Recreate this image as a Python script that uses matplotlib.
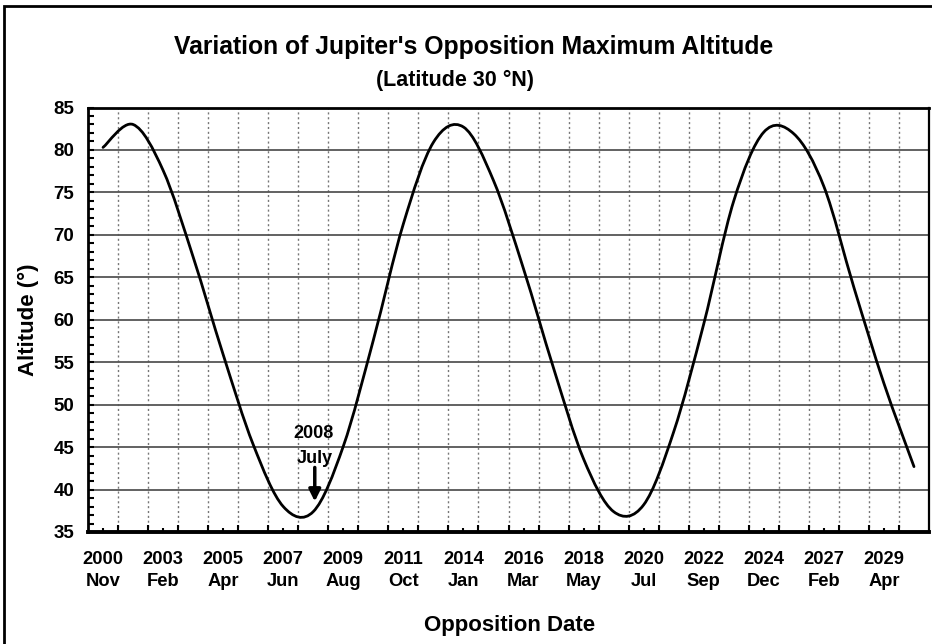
import numpy as np
import matplotlib
matplotlib.use("Agg")
import matplotlib.pyplot as plt
from matplotlib.path import Path
from matplotlib.patches import PathPatch, Rectangle

# one point per Jupiter opposition, 2000 Nov .. 2030 May
dates = ["2000 Nov", "2002 Jan", "2003 Feb", "2004 Mar", "2005 Apr", "2006 May",
         "2007 Jun", "2008 Jul", "2009 Aug", "2010 Sep", "2011 Oct", "2012 Dec",
         "2014 Jan", "2015 Feb", "2016 Mar", "2017 Apr", "2018 May", "2019 Jun",
         "2020 Jul", "2021 Aug", "2022 Sep", "2023 Nov", "2024 Dec", "2026 Jan",
         "2027 Feb", "2028 Mar", "2029 Apr", "2030 May"]
altitude = [80.3, 83.0, 77.6, 67.4, 55.9, 45.3, 38.0, 37.4, 45.1, 57.6,
            71.3, 80.9, 82.7, 76.4, 66.0, 54.3, 43.6, 37.4, 38.2, 46.8,
            59.5, 74.0, 82.1, 81.9, 75.7, 63.8, 52.5, 42.7]

W, H = 932, 644
fig = plt.figure(figsize=(W / 100, H / 100), dpi=100)
ax = fig.add_axes([88 / W, 1 - 532 / H, 841 / W, 424.5 / H])

bold = dict(family=["Liberation Sans", "DejaVu Sans"], weight="bold")
narrow = dict(family=["Liberation Sans Narrow", "Liberation Sans", "DejaVu Sans"], weight="bold")

# smoothed line (excel-style bezier through the data points)
x = np.arange(len(altitude), dtype=float)
y = np.array(altitude)
pts = np.column_stack([x, y])
ext = np.vstack([pts[0], pts, pts[-1]])
verts = [pts[0]]
codes = [Path.MOVETO]
for i in range(len(pts) - 1):
    c1 = pts[i] + (ext[i + 2] - ext[i]) / 6
    c2 = pts[i + 1] - (ext[i + 3] - ext[i + 1]) / 6
    verts += [c1, c2, pts[i + 1]]
    codes += [Path.CURVE4] * 3
ax.add_patch(PathPatch(Path(verts, codes), fill=False, edgecolor="black", lw=2.0,
                       capstyle="round", joinstyle="round", zorder=3))

ax.set_xlim(-0.5, len(altitude) - 0.5)
ax.set_ylim(35, 85)

# axes, ticks, grid
major_x = list(range(0, len(dates), 2))
ax.set_xticks(major_x)
ax.set_xticklabels([dates[i].replace(" ", "\n") for i in major_x], linespacing=1.35, **narrow)
ax.set_xticks(np.arange(0.5, len(dates) - 1, 1.0), minor=True)
ax.set_yticks(np.arange(35, 86, 5))
ax.set_yticks(np.arange(35, 86, 1), minor=True)
ax.set_yticklabels([str(v) for v in range(35, 86, 5)], **bold)

ax.tick_params(axis="x", which="major", direction="in", length=3, width=1.5, labelsize=13.2, pad=14)
ax.tick_params(axis="x", which="minor", direction="in", length=5, width=1.5)
ax.tick_params(axis="y", which="both", direction="in", length=4, width=1.5, labelsize=13.5, pad=10)

ax.grid(axis="y", which="major", color="#555555", lw=1.3, ls="-", zorder=1)
ax.grid(axis="x", which="minor", color="#777777", lw=1.0, ls=(0, (1.5, 2)), zorder=1)
ax.grid(axis="x", which="major", visible=False)
ax.set_axisbelow(True)

for side, lw in [("left", 2.0), ("bottom", 2.8), ("top", 2.0), ("right", 1.6)]:
    ax.spines[side].set_linewidth(lw)
    ax.spines[side].set_color("black")

# 2008 July marker
ax.annotate("", xy=(7.05, 38.6), xytext=(7.05, 42.6),
            arrowprops=dict(arrowstyle="-|>,head_length=0.7,head_width=0.35",
                            color="black", lw=2.5, shrinkA=0, shrinkB=0), zorder=4)
ax.text(7.0, 46.6, "2008", ha="center", va="center", fontsize=13, **narrow)
ax.text(7.05, 43.7, "July", ha="center", va="center", fontsize=13, **narrow)

# titles
fig.text(474 / W, 1 - 47 / H, "Variation of Jupiter's Opposition Maximum Altitude",
         ha="center", va="center", fontsize=17.8, **bold)
fig.text(455 / W, 1 - 80 / H, "(Latitude 30 \u00b0N)", ha="center", va="center",
         fontsize=15.5, **bold)
fig.text(510 / W, 1 - 625 / H, "Opposition Date", ha="center", va="center",
         fontsize=16, **bold)
fig.text(28 / W, 1 - 320 / H, "Altitude (\u00b0)", ha="center", va="center",
         rotation=90, fontsize=16, **bold)

# outer frame (only left and top edges are visible)
fig.patches.append(Rectangle((3.5 / W, -0.05), 1.1, 1.05 - 6 / H, transform=fig.transFigure,
                             fill=False, edgecolor="black", lw=2.0))

fig.savefig("out.png", dpi=100)
